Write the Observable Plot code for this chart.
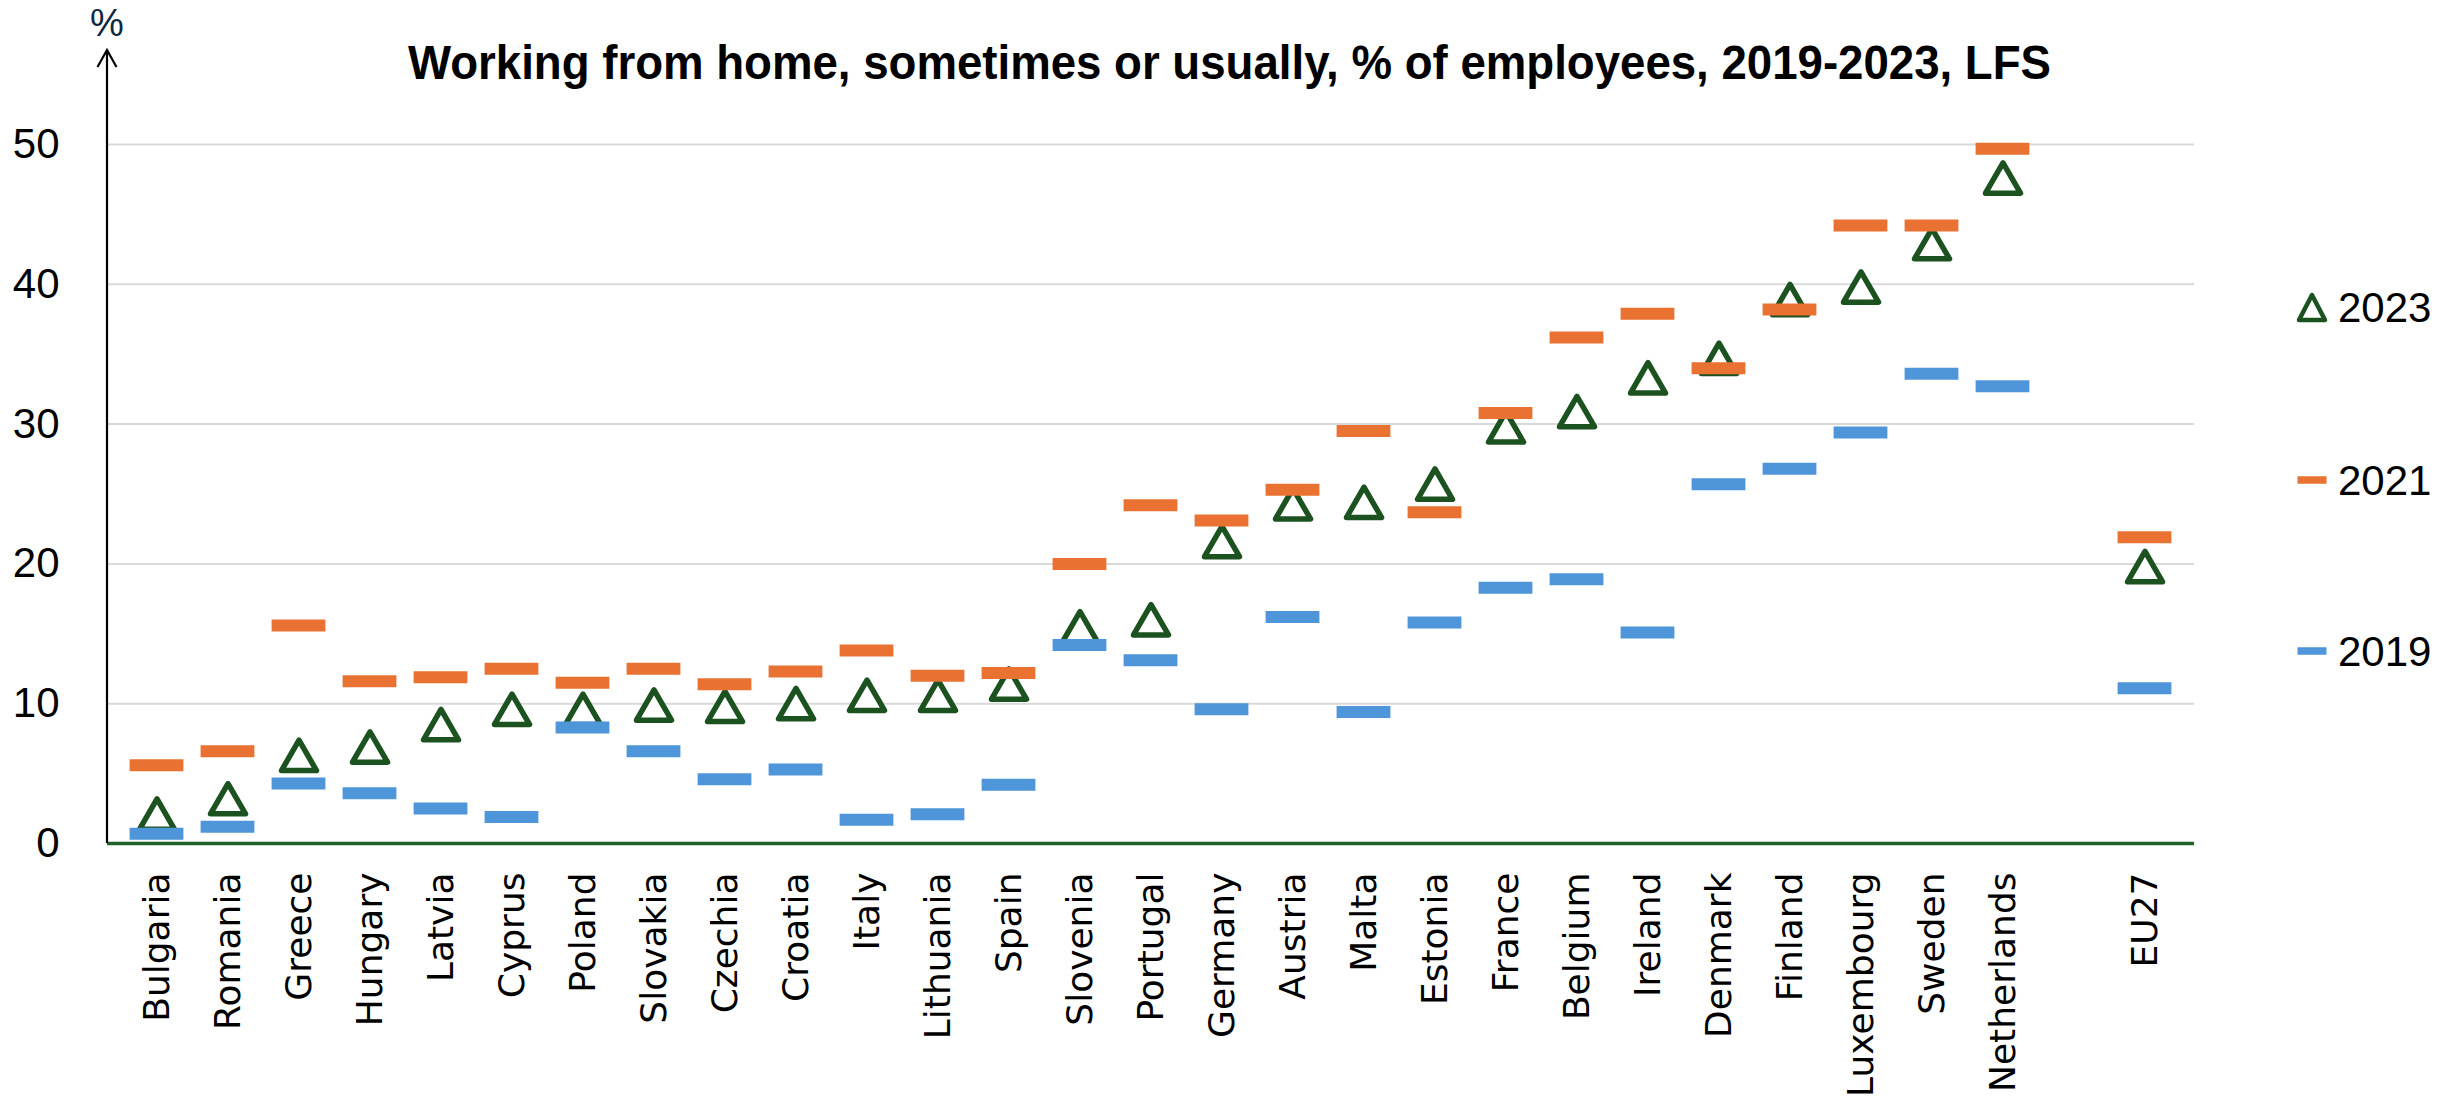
<!DOCTYPE html>
<html>
<head>
<meta charset="utf-8">
<script src="https://cdn.jsdelivr.net/npm/d3@7"></script>
<script src="https://cdn.jsdelivr.net/npm/@observablehq/plot@0.6"></script>
<style>
  html, body { margin: 0; padding: 0; background: #ffffff; }
  #wrap { position: relative; width: 2461px; height: 1111px; overflow: hidden; background: #fff; }
  #wrap > svg { position: absolute; left: 0; top: 0; }
  #overlay { position: absolute; left: 0; top: 0; pointer-events: none; }
</style>
</head>
<body>
<div id="wrap"></div>
<script>
// ---- Data ----
const countries = ["Bulgaria","Romania","Greece","Hungary","Latvia","Cyprus","Poland","Slovakia","Czechia","Croatia","Italy","Lithuania","Spain","Slovenia","Portugal","Germany","Austria","Malta","Estonia","France","Belgium","Ireland","Denmark","Finland","Luxembourg","Sweden","Netherlands","EU27"];
const v2019 = [0.7,1.2,4.3,3.6,2.5,1.9,8.3,6.6,4.6,5.3,1.7,2.1,4.2,14.2,13.1,9.6,16.2,9.4,15.8,18.3,18.9,15.1,25.7,26.8,29.4,33.6,32.7,11.1];
const v2021 = [5.6,6.6,15.6,11.6,11.9,12.5,11.5,12.5,11.4,12.3,13.8,12.0,12.2,20.0,24.2,23.1,25.3,29.5,23.7,30.8,36.2,37.9,34.0,38.2,44.2,44.2,49.7,21.9];
const v2023 = [2.1,3.2,6.3,6.9,8.5,9.6,9.6,9.9,9.8,10.0,10.6,10.6,11.4,15.5,16.0,21.6,24.3,24.4,25.7,29.8,30.9,33.3,34.7,38.9,39.8,42.9,47.6,19.8];
const seriesNames = ["2023","2021","2019"];
const yTicks = [0,10,20,30,40,50];
const titleText = "Working from home, sometimes or usually, % of employees, 2019-2023, LFS";
const yUnit = "%";

// ---- Styles ----
const C2019 = "#4E95D9", C2021 = "#E97132", C2023 = "#1B5220";
const GRID = "#D9D9D9", XAXIS = "#22602A";
const NARROW = "'Liberation Sans Narrow', 'Arial Narrow', 'Liberation Sans', sans-serif";

const SPACER = " ";
const domainX = [...countries.slice(0, countries.length - 1), SPACER, countries[countries.length - 1]];
const rows = countries.map((c, i) => ({country: c, y19: v2019[i], y21: v2021[i], y23: v2023[i]}));

const W = 2461, H = 1111;
const mL = 107, mR = 267, mT = 144, mB = 268;

const chart = Plot.plot({
  width: W, height: H,
  marginLeft: mL, marginRight: mR, marginTop: mT, marginBottom: mB,
  style: {background: "transparent", overflow: "visible"},
  x: {type: "band", domain: domainX, padding: 0, axis: null},
  y: {domain: [0, 50], axis: null},
  marks: [
    Plot.gridY(yTicks.filter(d => d > 0), {stroke: GRID, strokeOpacity: 1, strokeWidth: 2}),
    Plot.ruleY([0], {stroke: XAXIS, strokeWidth: 3.5}),
    Plot.axisX({anchor: "bottom", tickSize: 0, tickPadding: 29, tickRotate: -90, label: null,
      fontSize: 36, fontFamily: "'DejaVu Sans', Verdana, sans-serif", fill: "#000",
      tickFormat: d => d === SPACER ? "" : d}),
    Plot.axisY({anchor: "left", ticks: yTicks, tickSize: 0, tickPadding: 48, label: null,
      fontSize: 42, fontFamily: NARROW, fill: "#000", tickFormat: d => String(d)}),
    Plot.dot(rows, {x: "country", y: "y23", symbol: "triangle", r: 13, dy: 5,
      stroke: C2023, fill: "white", strokeWidth: 5.5, strokeLinejoin: "round"}),
    Plot.tickY(rows, {x: "country", y: "y21", stroke: C2021, strokeWidth: 12, insetLeft: 8.6, insetRight: 8.6}),
    Plot.tickY(rows, {x: "country", y: "y19", stroke: C2019, strokeWidth: 12, insetLeft: 8.6, insetRight: 8.6})
  ]
});

const wrap = document.getElementById("wrap");
wrap.appendChild(chart);

// ---- Overlay: title, y-axis arrow, unit, legend ----
const ys = chart.scale("y");
const y0 = ys.apply(0), yTop = ys.apply(50);
const xAxisX = mL;
const tipY = yTop - 94;

const ns = "http://www.w3.org/2000/svg";
const ov = document.createElementNS(ns, "svg");
ov.setAttribute("id", "overlay");
ov.setAttribute("width", W);
ov.setAttribute("height", H);
function el(tag, attrs, text) {
  const e = document.createElementNS(ns, tag);
  for (const k in attrs) e.setAttribute(k, attrs[k]);
  if (text != null) e.textContent = text;
  ov.appendChild(e);
  return e;
}
// title
el("text", {x: 1229.5, y: 79, "text-anchor": "middle", "font-family": NARROW, "font-weight": "bold",
  "font-size": 48, fill: "#000", textLength: 1643, lengthAdjust: "spacingAndGlyphs"}, titleText);
// y axis line with open arrow
el("line", {x1: xAxisX, y1: y0, x2: xAxisX, y2: tipY, stroke: "#000", "stroke-width": 2.2});
el("path", {d: `M${xAxisX - 9.5},${tipY + 17} L${xAxisX},${tipY} L${xAxisX + 9.5},${tipY + 17}`,
  fill: "none", stroke: "#000", "stroke-width": 2.2, "stroke-linejoin": "miter"});
// unit
el("text", {x: xAxisX, y: 23, "text-anchor": "middle", "dominant-baseline": "central",
  "font-family": NARROW, "font-size": 38, fill: "#0E2841"}, yUnit);
// legend
const legX = 2312, textX = 2338;
const legY = [307, 480, 651];
const colors = {"2023": C2023, "2021": C2021, "2019": C2019};
seriesNames.forEach((name, i) => {
  const cy = legY[i];
  if (name === "2023") {
    el("path", {d: `M${legX},${cy - 12} L${legX + 13},${cy + 13} L${legX - 13},${cy + 13} Z`,
      fill: "white", stroke: colors[name], "stroke-width": 4.5, "stroke-linejoin": "round"});
  } else {
    el("line", {x1: legX - 14.5, y1: cy, x2: legX + 14.5, y2: cy, stroke: colors[name], "stroke-width": 7.5});
  }
  el("text", {x: textX, y: cy, "dominant-baseline": "central", "font-family": "'Liberation Sans', Arial, sans-serif",
    "font-size": 42, fill: "#000"}, name);
});
wrap.appendChild(ov);
</script>
</body>
</html>
